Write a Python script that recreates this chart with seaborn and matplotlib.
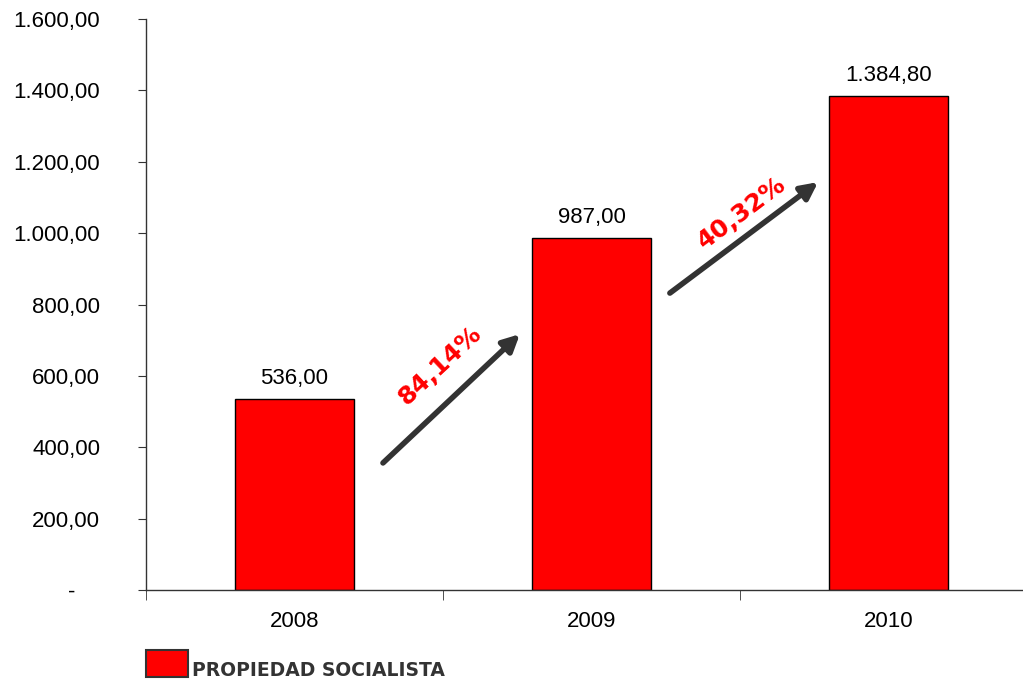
import matplotlib
matplotlib.use("Agg")
import matplotlib.pyplot as plt
from matplotlib.patches import Rectangle
from matplotlib.ticker import FuncFormatter
import seaborn as sns
import pandas as pd

# data
years = ["2008", "2009", "2010"]
values = [536.00, 987.00, 1384.80]
growth = ["84,14%", "40,32%"]
series_name = "PROPIEDAD SOCIALISTA"

sns.set_style("white")
plt.rcParams['font.family'] = ['Liberation Sans', 'DejaVu Sans']
plt.rcParams['text.color'] = 'black'
plt.rcParams['xtick.color'] = 'black'
plt.rcParams['ytick.color'] = 'black'

df = pd.DataFrame({"year": years, "value": values})

fig = plt.figure(figsize=(10.23, 6.8), dpi=100)
ax = fig.add_axes([0.1427, 0.1324, 0.8573, 0.8396])

sns.barplot(data=df, x="year", y="value", ax=ax, color="#ff0000",
            saturation=1, width=0.4, edgecolor="black", linewidth=1)


def es_fmt(v, pos=None):
    if v == 0:
        return "-    "   # Excel style dash sits left of the numbers
    s = f"{v:,.2f}"
    return s.replace(",", "X").replace(".", ",").replace("X", ".")


# value labels above bars
for i, v in enumerate(values):
    ax.text(i, v + 28, es_fmt(v), ha="center", va="bottom", fontsize=16)

ax.set_yticks(range(0, 1601, 200))
ax.yaxis.set_major_formatter(FuncFormatter(es_fmt))
ax.tick_params(axis="y", labelsize=16, length=6, direction="out", left=True,
               color="#333333", labelcolor="black", pad=27)

ax.set_xticks([-0.5, 0.5, 1.5, 2.5], minor=True)
ax.tick_params(axis="x", which="minor", length=7, direction="out",
               bottom=True, color="#333333")
ax.tick_params(axis="x", which="major", length=0, labelsize=16, pad=15,
               labelcolor="black")

# limits after ticks so the ticks do not stretch them
ax.set_ylim(0, 1600)
ax.set_xlim(-0.5, 2.453)

ax.set_xlabel("")
ax.set_ylabel("")
sns.despine(ax=ax, top=True, right=True)
for sp in ["left", "bottom"]:
    ax.spines[sp].set_color("#333333")
    ax.spines[sp].set_linewidth(1)

# growth arrows between bars
arrows = [((0.298, 356), (0.759, 717)), ((1.264, 832), (1.763, 1143))]
text_pos = [(0.49, 630, 43), (1.507, 1056, 37)]
for (start, end), (tx, ty, rot), g in zip(arrows, text_pos, growth):
    ax.annotate("", xy=end, xytext=start,
                arrowprops=dict(arrowstyle="-|>,head_length=1.0,head_width=0.5",
                                color="#333333", lw=4, shrinkA=0, shrinkB=0))
    ax.text(tx, ty, g, rotation=rot, ha="center", va="center", color="#ff0000",
            fontsize=18, fontweight="bold", family="DejaVu Sans",
            rotation_mode="anchor")

# legend key below the plot, drawn like the Excel one
fig.patches.append(Rectangle((0.1427, 0.0044), 0.041, 0.0397,
                             transform=fig.transFigure, facecolor="#ff0000",
                             edgecolor="#333333", linewidth=1.5))
fig.text(0.1877, 0.0065, series_name, ha="left", va="baseline",
         family="DejaVu Sans", fontweight="bold", fontsize=13.5,
         color="#333333")

fig.savefig("out.png", dpi=100)
